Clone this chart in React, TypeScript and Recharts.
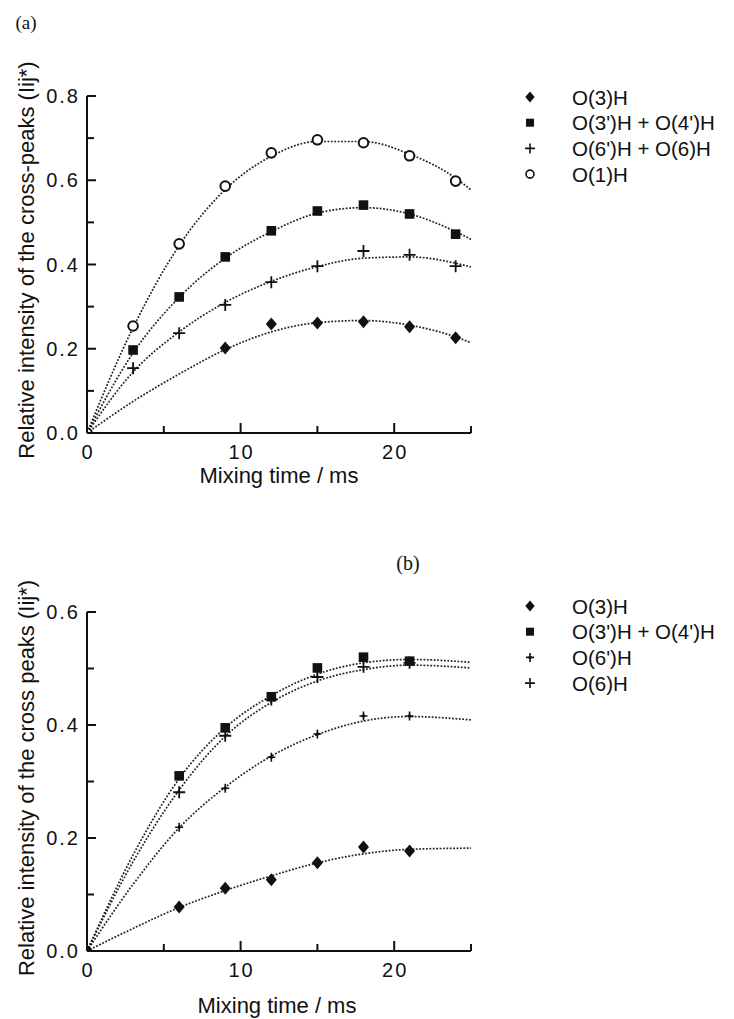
import React from "react";
import { ComposedChart, Line, Scatter, XAxis, YAxis } from "recharts";

// Panel (a): measured cross-peak intensities
const tA = [3, 6, 9, 12, 15, 18, 21, 24];
const tA3 = [9, 12, 15, 18, 21, 24];
const aO3H = [0.202, 0.259, 0.261, 0.264, 0.252, 0.226];
const aO34 = [0.197, 0.323, 0.418, 0.48, 0.527, 0.541, 0.52, 0.472];
const aO66 = [0.154, 0.237, 0.304, 0.358, 0.396, 0.432, 0.423, 0.396];
const aO1H = [0.254, 0.449, 0.586, 0.665, 0.696, 0.689, 0.658, 0.598];

// Panel (a): fitted curves
const tFitA = [0, 3, 6, 9, 12, 15, 18, 21, 24, 25];
const fitAO3H = [0, 0.075, 0.14, 0.198, 0.24, 0.262, 0.267, 0.256, 0.228, 0.214];
const fitAO34 = [0, 0.19, 0.322, 0.415, 0.478, 0.522, 0.535, 0.52, 0.478, 0.46];
const fitAO66 = [0, 0.145, 0.24, 0.31, 0.36, 0.395, 0.415, 0.418, 0.403, 0.394];
const fitAO1H = [0, 0.25, 0.445, 0.578, 0.657, 0.692, 0.692, 0.662, 0.605, 0.577];

// Panel (b): measured
const tB = [6, 9, 12, 15, 18, 21];
const bO3H = [0.078, 0.111, 0.126, 0.156, 0.184, 0.177];
const bO34 = [0.31, 0.395, 0.45, 0.501, 0.52, 0.513];
const bO6p = [0.219, 0.288, 0.343, 0.384, 0.416, 0.416];
const bO6 = [0.281, 0.381, 0.445, 0.485, 0.503, 0.51];

// Panel (b): fitted curves
const tFitB = [0, 3, 6, 9, 12, 15, 18, 21, 25];
const fitBO3H = [0, 0.04, 0.077, 0.107, 0.133, 0.156, 0.172, 0.18, 0.182];
const fitBO34 = [0, 0.17, 0.305, 0.395, 0.452, 0.49, 0.51, 0.516, 0.511];
const fitBO6p = [0, 0.118, 0.218, 0.29, 0.345, 0.383, 0.407, 0.415, 0.409];
const fitBO6 = [0, 0.158, 0.285, 0.38, 0.44, 0.478, 0.498, 0.506, 0.501];

const ticksA = [0, 0.1, 0.2, 0.3, 0.4, 0.5, 0.6, 0.7, 0.8];
const ticksB = [0, 0.1, 0.2, 0.3, 0.4, 0.5, 0.6];
const ticksX = [0, 5, 10, 15, 20, 25];

const legendA = ["O(3)H", "O(3')H + O(4')H", "O(6')H + O(6)H", "O(1)H"];
const legendB = ["O(3)H", "O(3')H + O(4')H", "O(6')H", "O(6)H"];

const INK = "#111";
const SANS = "'Liberation Sans', Arial, sans-serif";
const AXIS_X = 87;

const pts = (ts: number[], vs: number[]) => ts.map((t, i) => ({ t, v: vs[i] }));

// marker shapes
const Diamond = ({ cx, cy, s = 6.5 }: any) => (
  <path d={`M${cx},${cy - s} L${cx + s * 0.85},${cy} L${cx},${cy + s} L${cx - s * 0.85},${cy} Z`} fill={INK} />
);
const Square = ({ cx, cy, s = 4.8 }: any) => (
  <rect x={cx - s} y={cy - s} width={s * 2} height={s * 2} fill={INK} />
);
const Plus = ({ cx, cy, s = 6, w = 1.8 }: any) => (
  <path d={`M${cx - s},${cy} H${cx + s} M${cx},${cy - s} V${cy + s}`} stroke={INK} strokeWidth={w} fill="none" />
);
const SmallPlus = ({ cx, cy }: any) => (
  <g>
    <path d={`M${cx - 4},${cy} H${cx + 4} M${cx},${cy - 4.5} V${cy + 4.5}`} stroke={INK} strokeWidth={1.6} fill="none" />
    <circle cx={cx} cy={cy} r={1.7} fill={INK} />
  </g>
);
const Ring = ({ cx, cy }: any) => (
  <circle cx={cx} cy={cy} r={4.8} fill="#fff" stroke={INK} strokeWidth={2} />
);
const Dot = ({ cx, cy }: any) => <circle cx={cx} cy={cy} r={5} fill={INK} />;

// inward-pointing ticks, labels only on majors
function YTick({ y, payload }: any) {
  const v = payload.value;
  const major = Math.round(v * 10) % 2 === 0;
  return (
    <g>
      <path d={`M${AXIS_X},${y} h${major ? 9 : 7}`} stroke={INK} strokeWidth={2} fill="none" />
      {major && (
        <text x={AXIS_X - 7} y={y} textAnchor="end" dominantBaseline="central" fontFamily={SANS} fontSize={20} letterSpacing={2} fill={INK}>
          {v.toFixed(1)}
        </text>
      )}
    </g>
  );
}

function XTick({ x, y, payload }: any) {
  const v = payload.value;
  const major = v % 10 === 0;
  return (
    <g>
      <path d={`M${x},${y} v-${major ? 10 : 7}`} stroke={INK} strokeWidth={2} fill="none" />
      {major && (
        <text x={x + 1} y={y + 19} textAnchor="middle" dominantBaseline="central" fontFamily={SANS} fontSize={20} letterSpacing={2} fill={INK}>
          {v}
        </text>
      )}
    </g>
  );
}

const fitLine = (data: any[], key: string) => (
  <Line
    key={key}
    data={data}
    dataKey="v"
    type="monotone"
    stroke="#222"
    strokeWidth={1.7}
    strokeDasharray="1.8 1.6"
    dot={false}
    activeDot={false}
    isAnimationActive={false}
  />
);

function Panel({ top, height, plotTop, plotH, yMax, yTicks, fits, marks }: any) {
  return (
    <div style={{ position: "absolute", left: 0, top, width: 734, height }}>
      <ComposedChart
        width={734}
        height={height}
        margin={{ top: plotTop, right: 263, bottom: height - plotTop - plotH - 30, left: 0 }}
      >
        <XAxis
          dataKey="t"
          type="number"
          domain={[0, 25]}
          ticks={ticksX}
          height={30}
          tickLine={false}
          tickSize={0}
          tickMargin={0}
          axisLine={{ stroke: INK, strokeWidth: 2 }}
          tick={<XTick />}
          allowDataOverflow
        />
        <YAxis
          type="number"
          domain={[0, yMax]}
          ticks={yTicks}
          width={AXIS_X}
          tickLine={false}
          tickSize={0}
          tickMargin={0}
          axisLine={{ stroke: INK, strokeWidth: 2 }}
          tick={<YTick />}
          allowDataOverflow
        />
        {fits}
        {marks}
      </ComposedChart>
    </div>
  );
}

const legendMarks = (kind: string, cx: number, cy: number) => {
  if (kind === "diamond") return <Diamond cx={cx} cy={cy} s={5.5} />;
  if (kind === "square") return <Square cx={cx} cy={cy} s={4} />;
  if (kind === "plus") return <Plus cx={cx} cy={cy} s={5} w={1.6} />;
  if (kind === "small") return <SmallPlus cx={cx} cy={cy} />;
  return <circle cx={cx} cy={cy} r={4} fill="#fff" stroke={INK} strokeWidth={1.6} />;
};

function Legend({ labels, kinds, y0 }: any) {
  return (
    <g>
      {labels.map((lab: string, i: number) => (
        <g key={lab}>
          {legendMarks(kinds[i], 530, y0 + i * 25.7)}
          <text x={572} y={y0 + i * 25.7} dominantBaseline="central" fontFamily={SANS} fontSize={20.5} fill={INK}>
            {lab}
          </text>
        </g>
      ))}
    </g>
  );
}

export default function App() {
  const scatter = (data: any[], shape: any, key: string) => (
    <Scatter key={key} data={data} dataKey="v" shape={shape} isAnimationActive={false} />
  );

  const fitsA = [
    fitLine(pts(tFitA, fitAO3H), "fa1"),
    fitLine(pts(tFitA, fitAO34), "fa2"),
    fitLine(pts(tFitA, fitAO66), "fa3"),
    fitLine(pts(tFitA, fitAO1H), "fa4"),
  ];
  const marksA = [
    scatter(pts(tA3, aO3H), <Diamond />, "ma1"),
    scatter(pts(tA, aO34), <Square />, "ma2"),
    scatter(pts(tA, aO66), <Plus />, "ma3"),
    scatter([{ t: 0, v: 0 }, ...pts(tA, aO1H)], <Ring />, "ma4"),
  ];

  const fitsB = [
    fitLine(pts(tFitB, fitBO3H), "fb1"),
    fitLine(pts(tFitB, fitBO34), "fb2"),
    fitLine(pts(tFitB, fitBO6p), "fb3"),
    fitLine(pts(tFitB, fitBO6), "fb4"),
  ];
  const marksB = [
    scatter([{ t: 0, v: 0 }], <Dot />, "mb0"),
    scatter(pts(tB, bO3H), <Diamond />, "mb1"),
    scatter(pts(tB, bO6), <Plus />, "mb4"),
    scatter(pts(tB, bO34), <Square />, "mb2"),
    scatter(pts(tB, bO6p), <SmallPlus />, "mb3"),
  ];

  return (
    <div style={{ position: "absolute", left: 0, top: 0, width: 734, height: 1019, background: "#fff" }}>
      <Panel top={0} height={500} plotTop={96} plotH={337} yMax={0.8} yTicks={ticksA} fits={fitsA} marks={marksA} />
      <Panel top={520} height={499} plotTop={92} plotH={339} yMax={0.6} yTicks={ticksB} fits={fitsB} marks={marksB} />
      <svg width={734} height={1019} style={{ position: "absolute", left: 0, top: 0, pointerEvents: "none" }}>
        <text x={26} y={22} textAnchor="middle" dominantBaseline="central" fontFamily="'Liberation Serif', serif" fontSize={19} fill={INK}>
          (a)
        </text>
        <text x={408} y={563} textAnchor="middle" dominantBaseline="central" fontFamily="'Liberation Serif', serif" fontSize={20} fill={INK}>
          (b)
        </text>
        <text
          transform="translate(26,260) rotate(-90)"
          textAnchor="middle"
          dominantBaseline="central"
          fontFamily={SANS}
          fontSize={22}
          fill={INK}
        >
          Relative intensity of the cross-peaks (Iij*)
        </text>
        <text
          transform="translate(26,778) rotate(-90)"
          textAnchor="middle"
          dominantBaseline="central"
          fontFamily={SANS}
          fontSize={22}
          fill={INK}
        >
          Relative intensity of the cross peaks (Iij*)
        </text>
        <text x={279} y={475} textAnchor="middle" dominantBaseline="central" fontFamily={SANS} fontSize={22} fill={INK}>
          Mixing time / ms
        </text>
        <text x={277} y={1005} textAnchor="middle" dominantBaseline="central" fontFamily={SANS} fontSize={22} fill={INK}>
          Mixing time / ms
        </text>
        <Legend labels={legendA} kinds={["diamond", "square", "plus", "ring"]} y0={97} />
        <Legend labels={legendB} kinds={["diamond", "square", "small", "plus"]} y0={606} />
      </svg>
    </div>
  );
}
